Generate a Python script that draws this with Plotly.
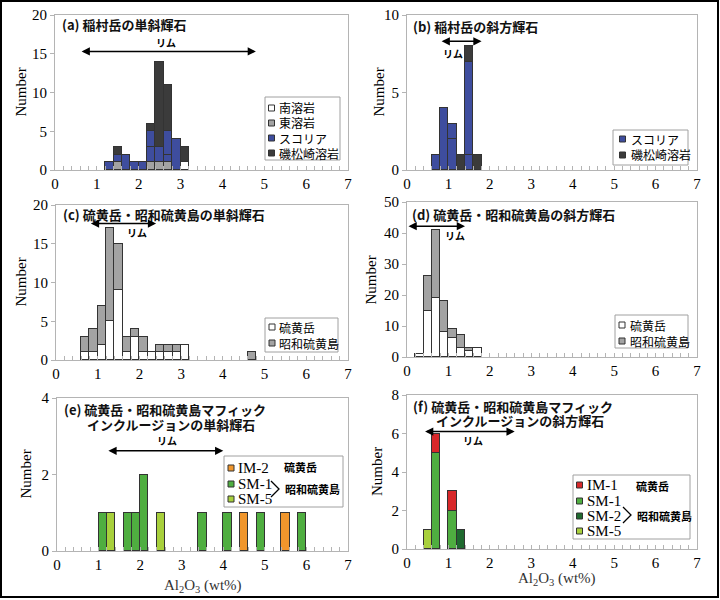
import plotly.graph_objects as go

W, H = 720, 600
SERIF = "Liberation Serif, Times New Roman, serif"
JP = "Noto Sans CJK JP, Noto Sans, sans-serif"

# ---------------- data ----------------
# (a) 稲村岳の単斜輝石
A_BINS = [1.3, 1.5, 1.7, 1.9, 2.1, 2.3, 2.5, 2.7, 2.9, 3.1]
A_MINAMI = [0, 0, 0, 0, 0, 0, 0, 0, 0, 1]
A_HIGASHI = [0, 1, 0, 0, 0, 1, 1, 1, 0, 0]
A_SCORIA1 = [1, 1, 2, 1, 1, 2, 2, 1, 4, 0]
A_SCORIA2 = [0, 0, 0, 0, 0, 2, 0, 3, 0, 0]
A_ISOMATSU = [0, 1, 0, 0, 0, 1, 11, 6, 0, 2]

# (b) 稲村岳の斜方輝石
B_BINS = [0.7, 0.9, 1.1, 1.3, 1.5, 1.7]
B_SCORIA1 = [1, 4, 2, 0, 1, 0]
B_SCORIA2 = [0, 0, 1, 0, 6, 0]
B_ISOMATSU = [0, 0, 0, 1, 1, 1]

# (c) 硫黄岳・昭和硫黄島の単斜輝石
C_BINS = [0.7, 0.9, 1.1, 1.3, 1.5, 1.7, 1.9, 2.1, 2.3, 2.5, 2.7, 2.9, 3.1, 4.7]
C_IODAKE = [1, 1, 2, 5, 9, 1, 3, 1, 1, 1, 1, 1, 2, 0]
C_SHOWA = [2, 3, 5, 12, 6, 2, 1, 2, 0, 1, 1, 1, 0, 1]

# (d) 硫黄岳・昭和硫黄島の斜方輝石
D_BINS = [0.3, 0.5, 0.7, 0.9, 1.1, 1.3, 1.5, 1.7]
D_IODAKE = [1, 15, 19, 8, 6, 3, 2, 3]
D_SHOWA = [0, 11, 22, 10, 3, 4, 1, 0]

# (e) マフィックインクルージョンの単斜輝石
E_BINS = [1.1, 1.3, 1.7, 1.9, 2.1, 2.5, 3.5, 4.1, 4.5, 4.9, 5.5, 5.9]
E_IM2 = [0, 0, 0, 0, 0, 0, 0, 0, 1, 0, 1, 0]
E_SM1 = [1, 0, 1, 1, 2, 0, 1, 1, 0, 1, 0, 1]
E_SM5 = [0, 1, 0, 0, 0, 1, 0, 0, 0, 0, 0, 0]

# (f) マフィックインクルージョンの斜方輝石
F_BINS = [0.5, 0.7, 1.1, 1.3]
F_SM5 = [1, 0, 0, 0]
F_SM1 = [0, 5, 2, 0]
F_SM2 = [0, 0, 0, 1]
F_IM1 = [0, 1, 1, 0]

BIN_WIDTH = 0.2

# rim ranges: (x start, x end, y level), label (x, y)
RIM_A = (0.6, 4.8, 15.3); RIM_A_LABEL = (2.65, 16.5)
RIM_B = (0.8, 1.8, 8.3); RIM_B_LABEL = (1.1, 7.5)
RIM_C = (0.8, 2.4, 17.6); RIM_C_LABEL = (1.95, 16.5)
RIM_D = (0.0, 1.4, 42.2); RIM_D_LABEL = (1.17, 39.3)
RIM_E = (1.2, 4.0, 2.62); RIM_E_LABEL = (2.65, 2.88)
RIM_F = (0.4, 2.6, 6.1); RIM_F_LABEL = (1.6, 5.62)

# colours
WHITE = "#ffffff"
GRAY = "#a3a3a3"
BLUE = "#3e4d9e"
DARK = "#3b3b3b"
ORANGE = "#f0962c"
GREEN = "#4fae40"
LGREEN = "#a8d03c"
DGREEN = "#1f6a2f"
RED = "#d8282a"
EDGE = "#333333"
FRAME = "#b4b4b4"


def px(x):
    return x / W


def py(y):
    return 1 - y / H


def nz(v):
    return [None if a == 0 else a for a in v]


# panel layout (pixel boxes)
PANELS = {
    "a": dict(ax="", xd=(55, 348), yd=(15, 170), ymax=20, dtick=5, nx=20),
    "b": dict(ax="2", xd=(407, 697), yd=(15, 170), ymax=10, dtick=5, nx=378),
    "c": dict(ax="3", xd=(56, 348), yd=(205, 360), ymax=20, dtick=5, nx=20),
    "d": dict(ax="4", xd=(407, 697), yd=(202, 357), ymax=50, dtick=10, nx=370),
    "e": dict(ax="5", xd=(57, 348), yd=(398, 551), ymax=4, dtick=2, nx=25),
    "f": dict(ax="6", xd=(407, 697), yd=(395, 549), ymax=8, dtick=2, nx=377),
}

SERIES = {
    "a": [(A_BINS, A_MINAMI, WHITE, "南溶岩"), (A_BINS, A_HIGASHI, GRAY, "東溶岩"),
          (A_BINS, A_SCORIA1, BLUE, "スコリア"), (A_BINS, A_SCORIA2, BLUE, None),
          (A_BINS, A_ISOMATSU, DARK, "磯松崎溶岩")],
    "b": [(B_BINS, B_SCORIA1, BLUE, "スコリア"), (B_BINS, B_SCORIA2, BLUE, None),
          (B_BINS, B_ISOMATSU, DARK, "磯松崎溶岩")],
    "c": [(C_BINS, C_IODAKE, WHITE, "硫黄岳"), (C_BINS, C_SHOWA, GRAY, "昭和硫黄島")],
    "d": [(D_BINS, D_IODAKE, WHITE, "硫黄岳"), (D_BINS, D_SHOWA, GRAY, "昭和硫黄島")],
    "e": [(E_BINS, E_IM2, ORANGE, "IM-2"), (E_BINS, E_SM1, GREEN, "SM-1"),
          (E_BINS, E_SM5, LGREEN, "SM-5")],
    "f": [(F_BINS, F_SM5, LGREEN, "SM-5"), (F_BINS, F_SM1, GREEN, "SM-1"),
          (F_BINS, F_SM2, DGREEN, "SM-2"), (F_BINS, F_IM1, RED, "IM-1")],
}

fig = go.Figure()
layout = dict(
    width=W, height=H, margin=dict(l=0, r=0, t=0, b=0, pad=0, autoexpand=False),
    paper_bgcolor="white", plot_bgcolor="white", barmode="stack",
    showlegend=False, bargap=0, template="none",
)
annotations = []
shapes = []

for key, p in PANELS.items():
    ax = p["ax"]
    for bins, vals, col, name in SERIES[key]:
        fig.add_trace(go.Bar(
            x=bins, y=nz(vals), width=BIN_WIDTH,
            marker=dict(color=col, line=dict(color=EDGE, width=1)),
            xaxis="x" + ax, yaxis="y" + ax, name=name or "",
            hoverinfo="x+y",
        ))
    layout["xaxis" + ax] = dict(
        domain=[px(p["xd"][0]), px(p["xd"][1])], anchor="y" + ax,
        range=[0, 7], dtick=1, tick0=0, showgrid=False, zeroline=False,
        showline=True, linecolor=FRAME, linewidth=1, mirror=True,
        ticks="inside", ticklen=4, tickcolor=FRAME, automargin=False,
        minor=dict(dtick=0.2, ticks="inside", ticklen=4, tickcolor=FRAME, showgrid=False),
        tickfont=dict(family=SERIF, size=15, color="black"),
        ticklabelstandoff=0,
        fixedrange=True,
    )
    layout["yaxis" + ax] = dict(
        domain=[py(p["yd"][1]), py(p["yd"][0])], anchor="x" + ax,
        range=[0, p["ymax"]], dtick=p["dtick"], tick0=0, showgrid=False, zeroline=False,
        showline=True, linecolor=FRAME, linewidth=1, mirror=True,
        ticks="outside", ticklen=4, tickcolor=FRAME, automargin=False,
        tickfont=dict(family=SERIF, size=15, color="black"),
        ticklabelstandoff=0,
        fixedrange=True,
    )
    annotations.append(dict(
        text="Number", textangle=-90, xref="paper", yref="paper",
        x=px(p["nx"]), y=py((p["yd"][0] + p["yd"][1]) / 2),
        showarrow=False, font=dict(family=SERIF, size=15, color="black"),
        xanchor="center", yanchor="middle",
    ))

TITLES = [
    ("(a) 稲村岳の単斜輝石", 60, 25),
    ("(b) 稲村岳の斜方輝石", 411, 26),
    ("(c) 硫黄岳・昭和硫黄島の単斜輝石", 61, 214),
    ("(d) 硫黄岳・昭和硫黄島の斜方輝石", 410, 214),
    ("(e) 硫黄岳・昭和硫黄島マフィック", 62, 409),
    ("インクルージョンの単斜輝石", 85, 424),
    ("(f) 硫黄岳・昭和硫黄島マフィック", 411, 406),
    ("インクルージョンの斜方輝石", 434, 420),
]
for t, x, y in TITLES:
    annotations.append(dict(
        text="<b>" + t + "</b>", xref="paper", yref="paper", x=px(x), y=py(y),
        xanchor="left", yanchor="middle", showarrow=False,
        font=dict(family=JP, size=13, color="#111111"),
    ))

RIMS = [("", RIM_A, RIM_A_LABEL), ("2", RIM_B, RIM_B_LABEL), ("3", RIM_C, RIM_C_LABEL),
        ("4", RIM_D, RIM_D_LABEL), ("5", RIM_E, RIM_E_LABEL), ("6", RIM_F, RIM_F_LABEL)]
for ax, (x0, x1, yv), (lx, ly) in RIMS:
    annotations.append(dict(
        x=x1, y=yv, ax=x0, ay=yv, xref="x" + ax, yref="y" + ax,
        axref="x" + ax, ayref="y" + ax, text="", showarrow=True,
        arrowhead=2, arrowside="end+start", arrowsize=1.1, arrowwidth=1.5,
        arrowcolor="black", standoff=0, startstandoff=0,
    ))
    annotations.append(dict(
        x=lx, y=ly, xref="x" + ax, yref="y" + ax, text="<b>リム</b>", showarrow=False,
        font=dict(family=JP, size=10, color="black"), xanchor="center", yanchor="middle",
    ))

for x, y in [(203, 586), (557, 579)]:
    annotations.append(dict(
        text="Al<sub>2</sub>O<sub>3</sub> (wt%)", xref="paper", yref="paper",
        x=px(x), y=py(y), showarrow=False, xanchor="center", yanchor="middle",
        font=dict(family=SERIF, size=15, color="#333333"),
    ))

LEGENDS = {
    "a": dict(box=(265, 97, 340, 160), sx=271.5, tx=277, rows=[108, 123, 138, 153],
              items=["南溶岩", "東溶岩", "スコリア", "磯松崎溶岩"], font="jp"),
    "b": dict(box=(613, 130, 688, 165), sx=622.5, tx=629, rows=[139, 155],
              items=["スコリア", "磯松崎溶岩"], font="jp"),
    "c": dict(box=(265, 318, 338, 352), sx=272, tx=277, rows=[327, 343],
              items=["硫黄岳", "昭和硫黄島"], font="jp"),
    "d": dict(box=(615, 315, 688, 348), sx=622, tx=628, rows=[325, 341],
              items=["硫黄岳", "昭和硫黄島"], font="jp"),
    "e": dict(box=(224, 456, 343, 507), sx=231, tx=236, rows=[468, 484, 499],
              items=["IM-2", "SM-1", "SM-5"], font="serif"),
    "f": dict(box=(573, 475, 690, 539), sx=579.5, tx=585, rows=[485, 501, 516, 531],
              items=["IM-1", "SM-1", "SM-2", "SM-5"], font="serif"),
}
for key, lg in LEGENDS.items():
    colmap = {name: col for _, _, col, name in SERIES[key] if name}
    x0, y0, x1, y1 = lg["box"]
    shapes.append(dict(type="rect", xref="paper", yref="paper",
                       x0=px(x0), x1=px(x1), y0=py(y1), y1=py(y0),
                       line=dict(color="#a0a0a0", width=1), fillcolor="white", layer="above"))
    for name, ry in zip(lg["items"], lg["rows"]):
        s = 3
        shapes.append(dict(type="rect", xref="paper", yref="paper",
                           x0=px(lg["sx"] - s), x1=px(lg["sx"] + s),
                           y0=py(ry + s), y1=py(ry - s),
                           line=dict(color=EDGE, width=1), fillcolor=colmap[name], layer="above"))
        if lg["font"] == "jp":
            f = dict(family=JP, size=12, color="black")
        else:
            f = dict(family=SERIF, size=15, color="black")
        annotations.append(dict(text=name, xref="paper", yref="paper", x=px(lg["tx"]),
                                y=py(ry), xanchor="left", yanchor="middle",
                                showarrow=False, font=f))

GROUPS = [
    ("硫黄岳", 282, 467), ("昭和硫黄島", 283, 489),
    ("硫黄岳", 634, 486), ("昭和硫黄島", 635, 516),
]
for t, x, y in GROUPS:
    annotations.append(dict(text="<b>" + t + "</b>", xref="paper", yref="paper",
                            x=px(x), y=py(y), xanchor="left", yanchor="middle",
                            showarrow=False, font=dict(family=JP, size=11, color="black")))
for (bx0, by0, bx1, bym, by1) in [(271, 481, 279, 489, 497), (623, 507, 631, 515, 523)]:
    shapes.append(dict(type="path", xref="paper", yref="paper",
                       path=f"M {px(bx0)} {py(by0)} L {px(bx1)} {py(bym)} L {px(bx0)} {py(by1)}",
                       line=dict(color="black", width=1.3), layer="above"))

shapes.append(dict(type="rect", xref="paper", yref="paper", x0=px(1), x1=px(718),
                   y0=py(597), y1=py(1), line=dict(color="black", width=2), layer="above"))

layout["annotations"] = annotations
layout["shapes"] = shapes
fig.update_layout(**layout)
fig.write_html(
    "out.html",
    config={"displayModeBar": False},
    post_script="document.body.style.margin='0';document.body.style.overflow='hidden';",
)
